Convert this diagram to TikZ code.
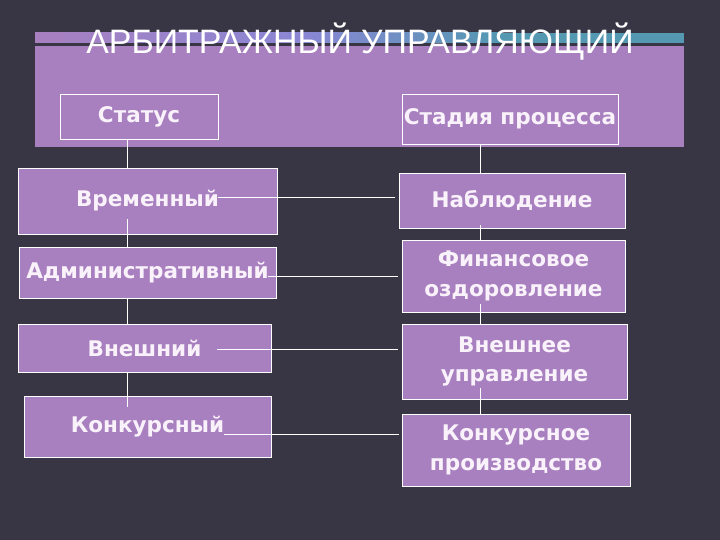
\documentclass[tikz,border=0pt]{standalone}
\usepackage{fontspec}
\setmainfont{DejaVu Sans}
\newfontfamily\titlefont{Liberation Sans}
\usepackage{tikz}
\usetikzlibrary{calc}
\definecolor{bg}{RGB}{56,53,68}
\definecolor{lilac}{RGB}{168,128,192}
\definecolor{lavblue}{RGB}{138,134,212}
\definecolor{barteal}{RGB}{84,152,178}
\definecolor{ink}{RGB}{250,242,250}

\begin{document}
\begin{tikzpicture}[x=1bp,y=-1bp,
    box/.style={draw=white,line width=0.9bp,fill=lilac,text=ink,inner sep=0pt,
      align=center,font=\fontsize{21.6}{30}\selectfont\bfseries},
    link/.style={draw=white,line width=0.9bp}]
  \fill[bg] (0,0) rectangle (720,540);
  \useasboundingbox (0,0) rectangle (720,540);

  % header
  \shade[left color=lilac,right color=lavblue] (35,33) rectangle (300,43);
  \shade[left color=lavblue,right color=barteal] (300,33) rectangle (500,43);
  \fill[barteal] (500,33) rectangle (684,43);
  \fill[lilac] (35,46) rectangle (684,147);
  \node[text=white,font=\titlefont\fontsize{34}{40}\selectfont,anchor=base] (title) at (360,54) {АРБИТРАЖНЫЙ УПРАВЛЯЮЩИЙ};

  \node[box,minimum width=158bp,minimum height=45bp] (stat) at (139,116.5) {Статус};
  \node[box,minimum width=216bp,minimum height=50bp] (stad) at (510,119) {Стадия процесса};

  % left column
  \node[box,minimum width=259bp,minimum height=66bp] (vre) at (147.5,201) {Временный};
  \node[box,minimum width=257bp,minimum height=51bp] (adm) at (147.5,272.5) {Административный};
  \node[box,minimum width=253bp,minimum height=48bp] (vne) at (144.5,348) {Внешний};
  \node[box,minimum width=247bp,minimum height=61bp] (kon) at (147.5,426.5) {Конкурсный};

  % right column
  \node[box,minimum width=226bp,minimum height=55bp] (nab) at (512,200.5) {Наблюдение};
  \node[box,minimum width=223bp,minimum height=72bp] (fin) at (513.5,276) {Финансовое\\оздоровление};
  \node[box,minimum width=225bp,minimum height=75bp] (vnu) at (514.5,361.5) {Внешнее\\управление};
  \node[box,minimum width=228bp,minimum height=72bp] (kpr) at (516,450) {Конкурсное\\производство};

  \coordinate (lt) at (127,0);
  \coordinate (rt) at (480,0);
  \coordinate (vre-r) at (218,197);
  \coordinate (adm-r) at (268,276);
  \coordinate (vne-r) at (217,349);
  \coordinate (kon-r) at (224,434);

  \draw[link] (stat.south -| lt) -- (vre.north -| lt);
  \draw[link] ($(vre.south -| lt)+(0,-15)$) -- (adm.north -| lt);
  \draw[link] (adm.south -| lt) -- (vne.north -| lt);
  \draw[link] (vne.south -| lt) -- ($(kon.north -| lt)+(0,11)$);

  \draw[link] (stad.south -| rt) -- (nab.north -| rt);
  \draw[link] ($(nab.south -| rt)+(0,-3)$) -- (fin.north -| rt);
  \draw[link] ($(fin.south -| rt)+(0,-8)$) -- (vnu.north -| rt);
  \draw[link] ($(vnu.south -| rt)+(0,-11)$) -- (kpr.north -| rt);

  \draw[link,shorten >=4bp] (vre-r) -- (vre-r -| nab.west);
  \draw[link,shorten >=4bp] (adm-r) -- (adm-r -| fin.west);
  \draw[link,shorten >=4bp] (vne-r) -- (vne-r -| vnu.west);
  \draw[link,shorten >=3bp] (kon-r) -- (kon-r -| kpr.west);
\end{tikzpicture}
\end{document}
